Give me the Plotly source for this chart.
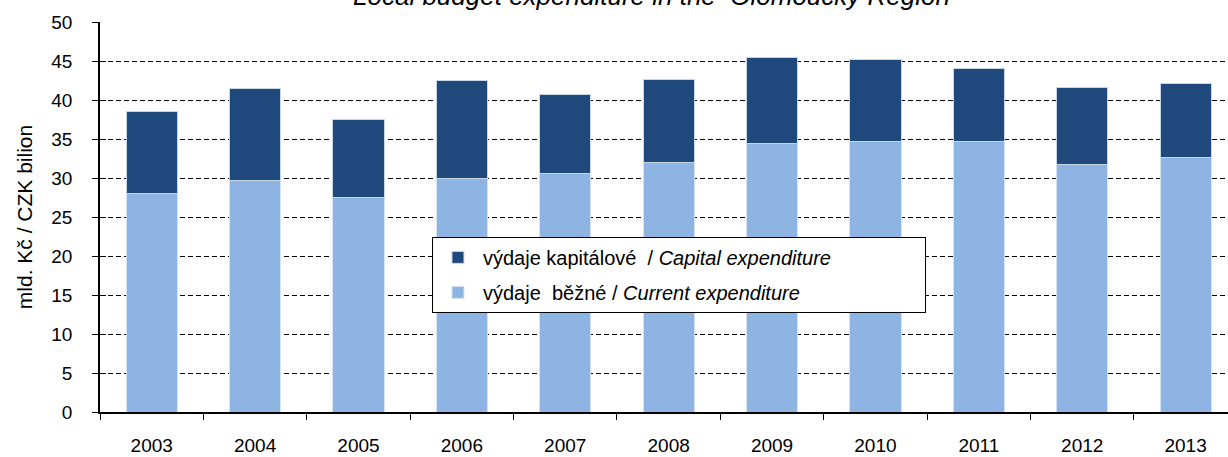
import plotly.graph_objects as go

years = ["2003", "2004", "2005", "2006", "2007", "2008", "2009", "2010", "2011", "2012", "2013"]
totals = [38.6, 41.5, 37.6, 42.5, 40.8, 42.7, 45.5, 45.3, 44.1, 41.7, 42.2]
current = [28.0, 29.7, 27.5, 30.0, 30.6, 32.05, 34.5, 34.7, 34.7, 31.8, 32.6]
capital = [round(t - c, 2) for t, c in zip(totals, current)]

dark = "#1F497D"
light = "#8EB4E3"
FONT = "Liberation Sans, Arial, sans-serif"
NB = "\u00a0"

fig = go.Figure()
fig.add_trace(go.Bar(
    x=years, y=current, name="výdaje  běžné / <i>Current expenditure</i>",
    marker=dict(color=light, line=dict(color="#D6E3F3", width=1)),
    legendgroup="b", legendrank=2,
))
fig.add_trace(go.Bar(
    x=years, y=capital,
    name="výdaje kapitálové  / <i>Capital expenditure</i>" + NB * 16,
    marker=dict(color=dark, line=dict(color="#C9D6E8", width=1)),
    legendgroup="a", legendrank=1,
))
# invisible helper trace: draws the inner half of the y tick marks
fig.add_trace(go.Scatter(x=[years[0]], y=[0], yaxis="y2", mode="markers",
                         marker=dict(opacity=0), showlegend=False, hoverinfo="skip"))

fig.update_layout(
    barmode="stack",
    bargap=0.505,
    width=1228, height=457,
    margin=dict(l=100, r=0, t=22, b=45, autoexpand=False),
    paper_bgcolor="white", plot_bgcolor="white",
    font=dict(family=FONT, size=19, color="black"),
    showlegend=True,
    legend=dict(
        x=0.2943, y=0.449, xanchor="left", yanchor="top",
        traceorder="grouped",
        tracegroupgap=6,
        bgcolor="white", bordercolor="black", borderwidth=1,
        font=dict(size=20),
        itemwidth=40,
    ),
    annotations=[dict(
        text="<i>Local budget expenditure in the  Olomoucký Region</i>",
        x=0.489, y=1.022, xref="paper", yref="paper",
        xanchor="center", yanchor="bottom", showarrow=False,
        font=dict(size=26),
    )],
    yaxis=dict(
        range=[0, 50.05], dtick=5,
        showgrid=True, gridcolor="black", griddash="5px,3px", gridwidth=1.3,
        showline=True, linecolor="black", linewidth=1.5,
        ticks="outside", ticklen=6, tickcolor="black",
        ticklabelstandoff=16,
        title=dict(text="mld. Kč / CZK bilion", font=dict(size=21), standoff=13),
        zeroline=False,
    ),
    yaxis2=dict(
        overlaying="y", range=[0, 50.05], dtick=5, side="left",
        ticks="inside", ticklen=6, tickcolor="black",
        showticklabels=False, showgrid=False, showline=False, zeroline=False,
    ),
    xaxis=dict(
        range=[-0.5, 10.41],
        showline=True, linecolor="black", linewidth=2,
        ticks="outside", ticklen=6, tickcolor="black",
        tickson="boundaries",
        showgrid=False,
        ticklabelstandoff=15,
    ),
)

fig.write_html("out.html", config={"displayModeBar": False},
               post_script="document.body.style.margin='0';")
